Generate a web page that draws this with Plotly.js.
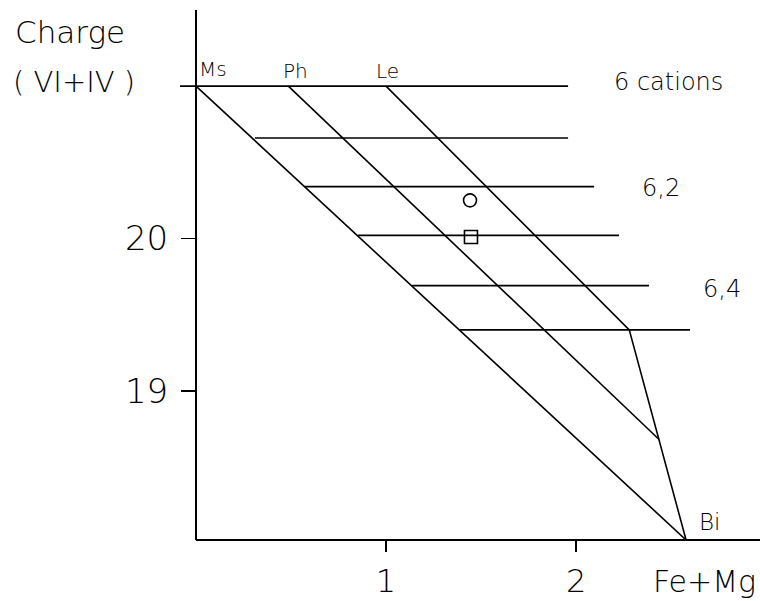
<!DOCTYPE html>
<html>
<head>
<meta charset="utf-8">
<script src="https://cdn.plot.ly/plotly-3.0.1.min.js"></script>
<style>html,body{margin:0;padding:0;background:#fff;}#chart{width:760px;height:601px;}</style>
</head>
<body>
<div id="chart"></div>
<script>
// ---- data ----
const levels    = [21.00, 20.66, 20.34, 20.02, 19.69, 19.40];   // charge of the horizontal cation lines
const lineStart = [-0.084, 0.31, 0.574, 0.853, 1.137, 1.389];   // Fe+Mg where each line starts
const lineEnd   = [1.958, 1.958, 2.095, 2.226, 2.384, 2.60];    // Fe+Mg where each line ends
const msBiX = [0, 2.579],        msBiY = [21, 18.02];          // Ms - Bi join
const phX   = [0.486, 2.437],    phY   = [21, 18.68];          // phengite line
const leX   = [1.0, 2.28, 2.579], leY  = [21, 19.40, 18.02];   // Le line, kink, Bi
const sampleX = [1.442, 1.447];
const sampleY = [20.25, 20.01];
const sampleSymbols = ['circle-open', 'square-open'];
const xTickVals = [1, 2], xTickText = ['1', '2'];
const yTickVals = [19, 20], yTickText = ['19', '20'];
const endLabels = ['Ms', 'Ph', 'Le', 'Bi'];
const endLabelX = [0.087, 0.521, 1.008, 2.703];
const endLabelY = [21.11, 21.10, 21.10, 18.14];
const endLabelSize = [20, 20, 20, 23];
const cationLabels = ['6 cations', '6,2', '6,4'];
const cationLabelX = [2.189, 2.337, 2.658];
const cationLabelY = [21.03, 20.33, 19.67];

// ---- build traces ----
const hx = [], hy = [];
levels.forEach((lv, i) => { hx.push(lineStart[i], lineEnd[i], null); hy.push(lv, lv, null); });

const lineStyle = {color: '#000', width: 1.6};
const traces = [
  {x: hx, y: hy, mode: 'lines', line: lineStyle, hoverinfo: 'skip'},
  {x: msBiX, y: msBiY, mode: 'lines', line: lineStyle},
  {x: phX, y: phY, mode: 'lines', line: lineStyle},
  {x: leX, y: leY, mode: 'lines', line: lineStyle},
  {x: sampleX, y: sampleY, mode: 'markers',
   marker: {symbol: sampleSymbols, size: 13, color: '#000', line: {width: 1.6, color: '#000'}}}
];

const textFont = {family: 'DejaVu Sans, Liberation Sans, sans-serif', color: '#000', weight: 300};
const annotations = [];
endLabels.forEach((t, i) => annotations.push({
  text: t, x: endLabelX[i], y: endLabelY[i], xref: 'x', yref: 'y', showarrow: false,
  xanchor: 'center', yanchor: 'middle', font: Object.assign({}, textFont, {size: endLabelSize[i]})
}));
cationLabels.forEach((t, i) => annotations.push({
  text: t, x: cationLabelX[i], y: cationLabelY[i], xref: 'x', yref: 'y', showarrow: false,
  xanchor: 'left', yanchor: 'middle', font: Object.assign({}, textFont, {size: 24})
}));
annotations.push({text: 'Charge', x: 0.017, y: 0.9585, xref: 'paper', yref: 'paper', showarrow: false,
  xanchor: 'left', yanchor: 'middle', font: Object.assign({}, textFont, {size: 31})});
annotations.push({text: '( VI+IV )', x: 0.014, y: 0.864, xref: 'paper', yref: 'paper', showarrow: false,
  xanchor: 'left', yanchor: 'middle', font: Object.assign({}, textFont, {size: 29})});
annotations.push({text: 'Fe+Mg', x: 0.997, y: -0.0774, xref: 'paper', yref: 'paper', showarrow: false,
  xanchor: 'right', yanchor: 'middle', font: Object.assign({}, textFont, {size: 30})});

const tickFont = {family: 'DejaVu Sans, sans-serif', size: 34, color: '#000', weight: 300};
const layout = {
  width: 760, height: 601,
  margin: {l: 0, r: 0, t: 10, b: 61, pad: 0},
  paper_bgcolor: '#fff', plot_bgcolor: '#fff',
  showlegend: false,
  xaxis: {
    domain: [180 / 760, 1], range: [-0.0842, 2.968],
    showline: false, showgrid: false, zeroline: false,
    tickmode: 'array', tickvals: xTickVals, ticktext: xTickText,
    ticks: 'outside', ticklen: 11, tickwidth: 1.5, tickcolor: '#000',
    ticklabelstandoff: 2, tickfont: Object.assign({}, tickFont, {size: 32})
  },
  yaxis: {
    domain: [0, 1], range: [18.02, 21.5],
    anchor: 'free', position: 196 / 760,
    showline: true, linecolor: '#000', linewidth: 2.2,
    showgrid: false, zeroline: false,
    tickmode: 'array', tickvals: yTickVals, ticktext: yTickText,
    ticks: 'outside', ticklen: 14, tickwidth: 1.5, tickcolor: '#000',
    ticklabelstandoff: 6, tickfont: tickFont
  },
  shapes: [{type: 'line', xref: 'x', yref: 'paper', x0: 0, x1: 2.968, y0: 0, y1: 0,
            line: {color: '#000', width: 2.2}}],
  annotations: annotations
};

Plotly.newPlot('chart', traces, layout, {staticPlot: true, displayModeBar: false});
</script>
</body>
</html>
